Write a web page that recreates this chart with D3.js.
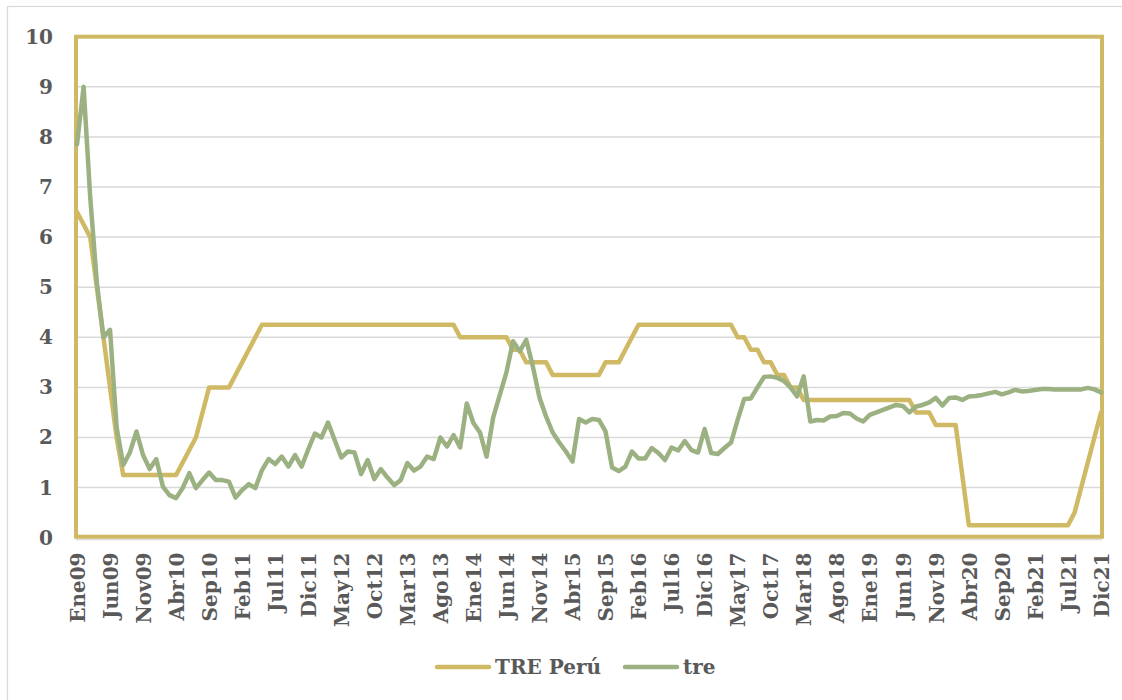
<!DOCTYPE html>
<html>
<head>
<meta charset="utf-8">
<script src="https://cdn.jsdelivr.net/npm/d3@7"></script>
<style>
  html, body { margin: 0; padding: 0; background: #fff; }
  svg { display: block; }
  text { font-family: "DejaVu Serif", serif; font-weight: bold; fill: #595959; }
</style>
</head>
<body>
<svg id="chart" width="1122" height="700"></svg>
<script>
// tick labels on the category axis (every 5th month, Ene09 .. Dic21)
const tickLabels = ["Ene09","Jun09","Nov09","Abr10","Sep10","Feb11","Jul11","Dic11",
  "May12","Oct12","Mar13","Ago13","Ene14","Jun14","Nov14","Abr15","Sep15","Feb16",
  "Jul16","Dic16","May17","Oct17","Mar18","Ago18","Ene19","Jun19","Nov19","Abr20",
  "Sep20","Feb21","Jul21","Dic21"];

const yTicks = [0, 1, 2, 3, 4, 5, 6, 7, 8, 9, 10];

// TRE Perú, monthly Jan 2009 - Dec 2021
const trePeru = [
  6.5, 6.25, 6.0, 5.0, 4.0, 3.0, 2.0, 1.25, 1.25, 1.25, 1.25, 1.25,
  1.25, 1.25, 1.25, 1.25, 1.5, 1.75, 2.0, 2.5, 3.0, 3.0, 3.0, 3.0,
  3.25, 3.5, 3.75, 4.0, 4.25, 4.25, 4.25, 4.25, 4.25, 4.25, 4.25, 4.25,
  4.25, 4.25, 4.25, 4.25, 4.25, 4.25, 4.25, 4.25, 4.25, 4.25, 4.25, 4.25,
  4.25, 4.25, 4.25, 4.25, 4.25, 4.25, 4.25, 4.25, 4.25, 4.25, 4.0, 4.0,
  4.0, 4.0, 4.0, 4.0, 4.0, 4.0, 3.75, 3.75, 3.5, 3.5, 3.5, 3.5,
  3.25, 3.25, 3.25, 3.25, 3.25, 3.25, 3.25, 3.25, 3.5, 3.5, 3.5, 3.75,
  4.0, 4.25, 4.25, 4.25, 4.25, 4.25, 4.25, 4.25, 4.25, 4.25, 4.25, 4.25,
  4.25, 4.25, 4.25, 4.25, 4.0, 4.0, 3.75, 3.75, 3.5, 3.5, 3.25, 3.25,
  3.0, 3.0, 2.75, 2.75, 2.75, 2.75, 2.75, 2.75, 2.75, 2.75, 2.75, 2.75,
  2.75, 2.75, 2.75, 2.75, 2.75, 2.75, 2.75, 2.5, 2.5, 2.5, 2.25, 2.25,
  2.25, 2.25, 1.25, 0.25, 0.25, 0.25, 0.25, 0.25, 0.25, 0.25, 0.25, 0.25,
  0.25, 0.25, 0.25, 0.25, 0.25, 0.25, 0.25, 0.5, 1.0, 1.5, 2.0, 2.5
];

// tre, monthly Jan 2009 - Dec 2021
const tre = [
  7.85, 9.0, 6.8, 5.1, 4.0, 4.15, 2.2, 1.45, 1.7, 2.12, 1.65, 1.37,
  1.57, 1.02, 0.85, 0.79, 0.99, 1.29, 0.99, 1.15, 1.3, 1.15, 1.15, 1.12,
  0.8, 0.95, 1.07, 0.99, 1.35, 1.57, 1.47, 1.62, 1.42, 1.65, 1.42, 1.76,
  2.08, 2.0, 2.3, 1.95, 1.6, 1.72, 1.7, 1.27, 1.55, 1.17, 1.37, 1.2,
  1.05, 1.15, 1.49, 1.34, 1.42, 1.62, 1.57, 2.0, 1.82, 2.05, 1.8, 2.68,
  2.29, 2.1, 1.62, 2.4, 2.85, 3.3, 3.92, 3.72, 3.95, 3.42, 2.8, 2.42,
  2.1, 1.9, 1.72, 1.52, 2.37, 2.3, 2.37, 2.35, 2.12, 1.4, 1.33, 1.42,
  1.72, 1.58, 1.58, 1.79, 1.69, 1.55, 1.8, 1.74, 1.93, 1.75, 1.7, 2.17,
  1.69, 1.67, 1.79, 1.9, 2.35, 2.77, 2.78, 3.0, 3.21, 3.22, 3.19, 3.13,
  3.0, 2.82, 3.22, 2.32, 2.35, 2.34, 2.42, 2.43, 2.49, 2.48, 2.38, 2.32,
  2.45, 2.5, 2.55, 2.6, 2.65, 2.63, 2.5, 2.62, 2.65, 2.7, 2.79, 2.64,
  2.79, 2.8, 2.75, 2.82, 2.83, 2.85, 2.88, 2.91, 2.86, 2.9, 2.95, 2.92,
  2.93, 2.95, 2.97, 2.97, 2.96, 2.96, 2.96, 2.96, 2.96, 2.99, 2.96, 2.9
];

const seriesNames = ["TRE Perú", "tre"];
const seriesColors = ["#D0B964", "#9CB182"];

const plotLeft = 76, plotRight = 1102, plotTop = 36.7, plotBottom = 537.7;

const svg = d3.select("#chart");

// outer chart frame (only left/top edges visible in the picture)
svg.append("rect")
    .attr("x", 7.5).attr("y", 6.5)
    .attr("width", 1300).attr("height", 900)
    .attr("fill", "none")
    .attr("stroke", "#d9d9d9")
    .attr("stroke-width", 1.2);

const x = d3.scaleLinear()
    .domain([0, tre.length - 1])
    .range([plotLeft + 1, plotRight - 1]);

const y = d3.scaleLinear()
    .domain([0, 10])
    .range([plotBottom, plotTop]);

// horizontal gridlines
svg.append("g")
    .attr("class", "grid")
  .selectAll("line")
  .data(yTicks.filter(d => d > 0 && d < 10))
  .join("line")
    .attr("x1", plotLeft).attr("x2", plotRight)
    .attr("y1", d => y(d)).attr("y2", d => y(d))
    .attr("stroke", "#d9d9d9")
    .attr("stroke-width", 1.5);

// y axis labels
svg.append("g")
    .attr("class", "y-axis")
    .attr("transform", `translate(${plotLeft},0)`)
    .call(d3.axisLeft(y).tickValues(yTicks).tickSize(0).tickPadding(23).tickFormat(d3.format("d")))
    .call(g => g.select(".domain").remove())
    .selectAll("text")
      .style("font-size", "20px")
      .style("fill", "#595959");

// x axis, with thin grey axis line just under the plot frame
const xAxis = svg.append("g")
    .attr("class", "x-axis")
    .attr("transform", `translate(0,${plotBottom + 1.8})`)
    .call(d3.axisBottom(x)
      .tickValues(d3.range(0, tre.length, 5))
      .tickSize(0)
      .tickFormat(i => tickLabels[i / 5]));

xAxis.select(".domain")
    .attr("d", `M${plotLeft},0H${plotRight}`)
    .attr("stroke", "#d9d9d9")
    .attr("stroke-width", 1.5);

xAxis.selectAll("text")
    .attr("transform", "rotate(-90)")
    .attr("text-anchor", "end")
    .attr("x", -13)
    .attr("y", 0)
    .attr("dy", "0.36em")
    .style("font-size", "20px")
    .style("fill", "#595959");

// gold frame around the plot area
svg.append("rect")
    .attr("x", plotLeft).attr("y", plotTop)
    .attr("width", plotRight - plotLeft)
    .attr("height", plotBottom - plotTop - 1)
    .attr("fill", "none")
    .attr("stroke", seriesColors[0])
    .attr("stroke-width", 4);

const line = d3.line()
    .x((d, i) => x(i))
    .y(d => y(d));

svg.append("g")
    .attr("class", "series")
  .selectAll("path")
  .data([trePeru, tre])
  .join("path")
    .attr("d", line)
    .attr("fill", "none")
    .attr("stroke", (d, i) => seriesColors[i])
    .attr("stroke-width", 4.5)
    .attr("stroke-linejoin", "round")
    .attr("stroke-linecap", "round");

// legend
const legend = svg.append("g").attr("class", "legend");
let lx = 437;
const ly = 667;
seriesNames.forEach((name, i) => {
  legend.append("line")
      .attr("x1", lx).attr("x2", lx + 52)
      .attr("y1", ly).attr("y2", ly)
      .attr("stroke", seriesColors[i])
      .attr("stroke-width", 4.5)
      .attr("stroke-linecap", "round");
  const t = legend.append("text")
      .attr("x", lx + 58)
      .attr("y", ly)
      .attr("dy", "0.35em")
      .style("font-size", "20px")
      .text(name);
  lx += 58 + t.node().getComputedTextLength() + 24;
});
</script>
</body>
</html>
